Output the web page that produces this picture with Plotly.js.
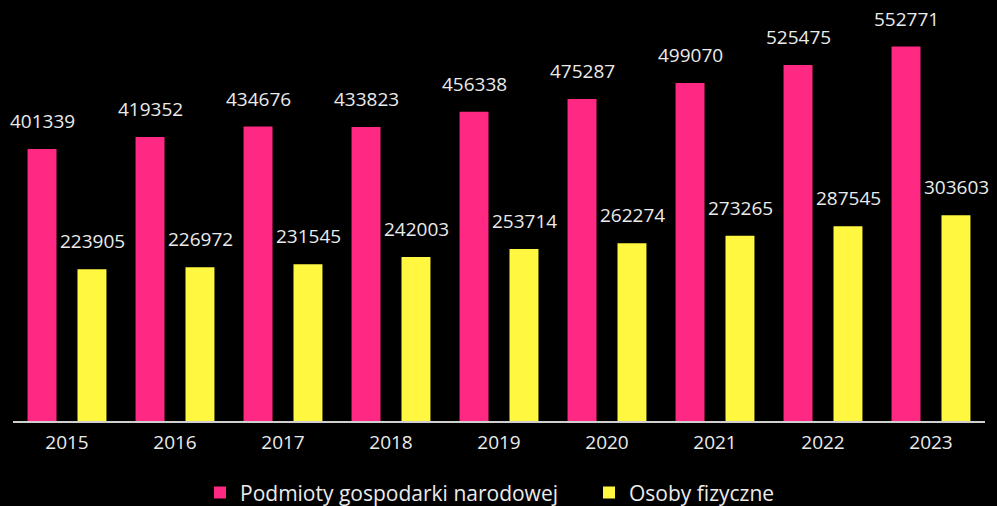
<!DOCTYPE html>
<html>
<head>
<meta charset="utf-8">
<script src="https://cdn.plot.ly/plotly-3.0.1.min.js"></script>
<style>html,body{margin:0;padding:0;background:#000;}#chart{width:997px;height:506px;}</style>
</head>
<body>
<div id="chart"></div>
<script>
const years = ["2015","2016","2017","2018","2019","2020","2021","2022","2023"];
const podmioty = [401339,419352,434676,433823,456338,475287,499070,525475,552771];
const osoby = [223905,226972,231545,242003,253714,262274,273265,287545,303603];
const seriesNames = ["Podmioty gospodarki narodowej","Osoby fizyczne"];
const colors = ["#FF2882","#FFF740"];
const FONT = "Open Sans, Noto Sans, sans-serif";
const TXT = "#ebebeb";

const xi = years.map((_, i) => i);

const traces = [
  {type:"bar", name:seriesNames[0], x:xi, y:podmioty, marker:{color:colors[0]}, hoverinfo:"none"},
  {type:"bar", name:seriesNames[1], x:xi, y:osoby, marker:{color:colors[1]}, hoverinfo:"none"}
];

const annotations = [];
[podmioty, osoby].forEach((arr, si) => {
  arr.forEach((v, i) => {
    annotations.push({
      x: xi[i], y: v, xref:"x", yref:"y",
      text: String(v), showarrow:false,
      xanchor:"center", yanchor:"bottom",
      xshift: si === 0 ? -25 : 25, yshift: 13,
      font:{family:FONT, size:19, color:TXT}
    });
  });
});

const layout = {
  width:997, height:506,
  paper_bgcolor:"#000", plot_bgcolor:"#000",
  margin:{l:13, r:12, t:0, b:85, autoexpand:false},
  barmode:"group", bargap:0.075, bargroupgap:0.42,
  showlegend:true,
  legend:{orientation:"h", xref:"paper", x:0.1924, xanchor:"left",
          yref:"container", y:0.026, yanchor:"middle",
          entrywidth:344, entrywidthmode:"pixels",
          font:{family:FONT, size:21, color:TXT}, tracegroupgap:0},
  xaxis:{type:"linear", range:[-0.5, 8.5], tickvals:xi, ticktext:years,
         showline:true, linecolor:"#cfcfcf", linewidth:2,
         ticks:"", ticklabelstandoff:3, tickfont:{family:FONT, size:19, color:TXT},
         showgrid:false, zeroline:false},
  yaxis:{range:[0,621400], visible:false, showgrid:false, zeroline:false},
  annotations: annotations,
  font:{family:FONT, color:TXT}
};

Plotly.newPlot("chart", traces, layout, {displayModeBar:false, staticPlot:true});
</script>
</body>
</html>
